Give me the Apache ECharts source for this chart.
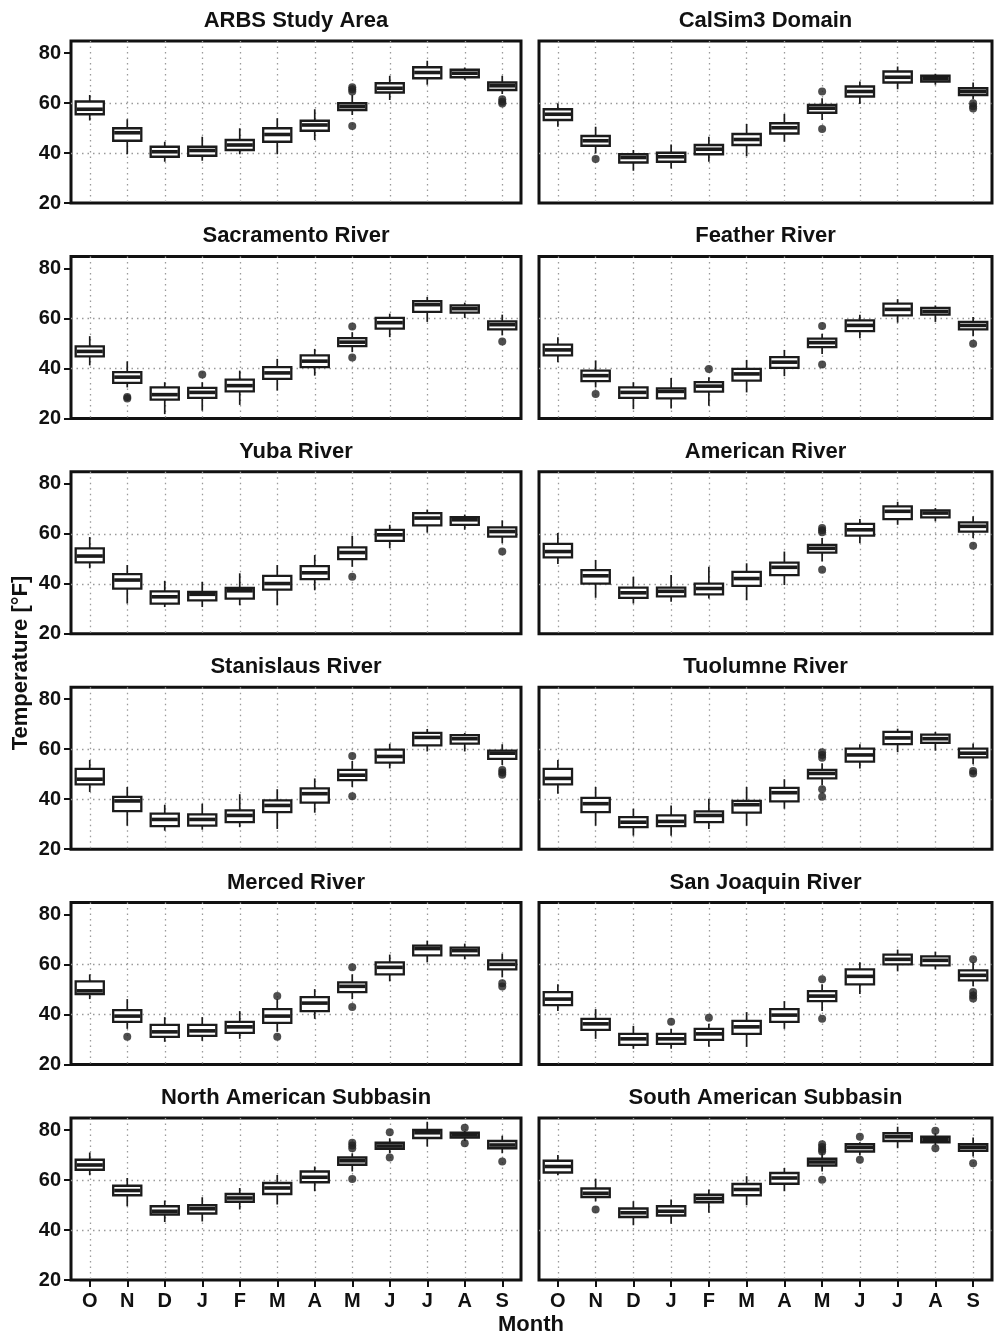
<!DOCTYPE html>
<html>
<head>
<meta charset="utf-8">
<title>Monthly Temperature</title>
<script src="https://cdn.jsdelivr.net/npm/echarts@6/dist/echarts.min.js"></script>
<style>
  html, body { margin: 0; padding: 0; background: #fff; }
  #chart { width: 994px; height: 1338px; }
</style>
</head>
<body>
<div id="chart"></div>
<script>
// Month letters, water year order (Oct .. Sep)
const months = ['O', 'N', 'D', 'J', 'F', 'M', 'A', 'M', 'J', 'J', 'A', 'S'];
const yTicks = [20, 40, 60, 80];

const panelTitles = [
  'ARBS Study Area', 'CalSim3 Domain',
  'Sacramento River', 'Feather River',
  'Yuba River', 'American River',
  'Stanislaus River', 'Tuolumne River',
  'Merced River', 'San Joaquin River',
  'North American Subbasin', 'South American Subbasin'
];

// Box statistics per month: [lower whisker, Q1, median, Q3, upper whisker] in °F
const arbsStats = [
  [53, 55.5, 57.5, 60.6, 63.2], [39.5, 44.9, 48.1, 49.9, 53.5], [36.5, 38.5, 40.5, 42.5, 44.5],
  [36.9, 38.9, 41, 42.5, 46.5], [39.5, 41.2, 43.2, 45.2, 49.9], [39.5, 44.5, 47.4, 49.9, 53.9],
  [45.2, 48.9, 51.2, 52.9, 57.5], [55.2, 57.2, 58.6, 59.9, 63.2], [61.2, 64.2, 65.9, 67.9, 70.9],
  [67.3, 69.9, 72.2, 74.3, 76.9], [69.3, 70.3, 71.9, 73.3, 74.2], [63.6, 65.2, 66.9, 68.2, 70.9]
];
const calsimStats = [
  [50.5, 53.2, 55.5, 57.5, 59.9], [39.8, 42.9, 44.9, 46.8, 50.5], [32.9, 36.2, 38.2, 39.5, 41.2],
  [33.8, 36.5, 38.5, 40.1, 43.4], [36.5, 39.5, 41.5, 43.2, 46.5], [38.7, 43.2, 45.4, 47.6, 51.6],
  [44.5, 47.8, 50.1, 51.9, 55.6], [53.2, 56.1, 57.9, 59.2, 61.9], [59.6, 62.6, 64.6, 66.6, 68.6],
  [65.5, 68.2, 70.3, 72.6, 74.6], [67.3, 68.6, 69.7, 70.9, 71.7], [61.5, 63.2, 64.6, 65.9, 68.2]
];
const sacramentoStats = [
  [41.2, 44.8, 46.8, 48.8, 52.9], [32.4, 34.2, 36.5, 38.5, 42.8], [21.7, 27.5, 29.5, 32.4, 34.5],
  [23.1, 28.2, 30.4, 32.2, 34.5], [25.4, 30.8, 33.1, 35.5, 39.1], [31.1, 35.8, 38.2, 40.5, 43.8],
  [37.1, 40.5, 42.9, 45.2, 47.8], [46.5, 48.9, 50.5, 52.1, 54.5], [52.5, 55.9, 58.3, 60.2, 61.9],
  [58.6, 62.6, 65.5, 66.9, 68.6], [60.2, 62.3, 63.9, 65.2, 66.3], [53.2, 55.6, 57.5, 58.8, 61.5]
];
const featherStats = [
  [42.5, 45.2, 47.4, 49.5, 52.5], [32.4, 34.9, 37.1, 39.1, 43.2], [23.7, 28.2, 30.4, 32.4, 34.5],
  [24, 28, 30.8, 32, 36.2], [25.1, 30.7, 32.9, 34.5, 36.5], [30.4, 35.1, 37.8, 39.8, 43.4],
  [36.9, 40.2, 42.5, 44.5, 47.4], [45.8, 48.5, 50.3, 51.9, 53.9], [52.1, 54.9, 57.2, 59.2, 61.5],
  [58.3, 61.2, 63.6, 65.9, 67.7], [58.6, 61.5, 62.8, 64.2, 65.2], [52.9, 55.6, 57.2, 58.6, 60.6]
];
const yubaStats = [
  [46.2, 48.6, 51.1, 54.2, 58.7], [32.1, 38.1, 41.5, 43.9, 47.5], [30.7, 32.1, 34.8, 37, 41.2],
  [30.7, 33.4, 35.8, 36.8, 40.8], [31.4, 34.1, 37.2, 38.4, 44.2], [31.4, 37.7, 40.1, 43.2, 47.5],
  [37.4, 41.9, 44.4, 47.1, 51.5], [46.8, 49.9, 52.5, 54.6, 59.2], [54.2, 57.2, 59.6, 61.6, 63.6],
  [60.5, 63.4, 66.3, 68.3, 69.7], [61.6, 63.6, 65.6, 66.7, 67.7], [56.2, 58.9, 60.9, 62.6, 65.4]
];
const americanStats = [
  [47.9, 50.6, 52.9, 56, 60.3], [34.4, 40.1, 43.2, 45.5, 49.5], [32.1, 34.4, 36.4, 38.5, 42.8],
  [32.8, 35, 37, 38.5, 43.5], [34.1, 35.8, 38.1, 40.1, 46.8], [33.4, 39.2, 42.1, 44.8, 48.2],
  [39.5, 43.5, 46.6, 48.5, 52.9], [48.9, 52.5, 54.2, 55.6, 58.3], [56.2, 59.3, 61.6, 64, 65.9],
  [63.6, 65.9, 69, 71, 72.8], [65, 66.6, 68.3, 69.4, 70.3], [58.3, 60.9, 63, 64.6, 67]
];
const stanislausStats = [
  [42.9, 45.9, 48, 52.1, 55.7], [29.4, 35.2, 39.3, 40.9, 44.9], [27.4, 29.2, 31.9, 34.2, 37.8],
  [27.8, 29.4, 31.9, 33.9, 38.2], [28.8, 30.8, 33.5, 35.5, 42], [28.1, 34.8, 37.5, 39.5, 44],
  [34.6, 38.6, 42.2, 44.3, 48.3], [44.9, 47.6, 49.6, 51.7, 55.3], [52.3, 54.6, 57.1, 59.8, 62.2],
  [59.1, 61.5, 64.7, 66.5, 68.1], [59.1, 62.2, 64.2, 65.6, 66.5], [53.7, 56.1, 58.4, 59.4, 62]
];
const tuolumneStats = [
  [42.2, 45.9, 48.3, 52.1, 55.7], [29.4, 34.8, 38.2, 40.5, 44.9], [25.4, 28.8, 30.8, 32.8, 36.2],
  [25.4, 29.2, 31.1, 33.5, 37.5], [28.1, 30.8, 33.5, 35.1, 40.2], [29.4, 34.6, 37.8, 39.3, 44.9],
  [36.2, 39.1, 42.6, 44.5, 48], [45.6, 48.3, 50.3, 51.7, 54.4], [52.3, 55, 57.7, 60.2, 62],
  [58.8, 62, 64.5, 66.9, 68.2], [59.4, 62.5, 64.2, 65.8, 66.9], [54, 56.7, 58.4, 60.2, 62.3]
];
const mercedStats = [
  [46.2, 48.2, 49.5, 53.3, 56.1], [34.3, 37.1, 39.4, 41.8, 46.2], [29.1, 31.1, 33.1, 35.9, 39],
  [29.5, 31.5, 33.5, 35.9, 39], [30.3, 32.7, 35.1, 37.1, 41.4], [33.1, 36.7, 39.4, 42.2, 46.2],
  [38.3, 41.4, 44.6, 47, 50.2], [46.2, 49, 51.3, 52.9, 56.1], [53.3, 56.1, 58.9, 60.9, 64],
  [60.9, 63.7, 66.4, 67.6, 69.6], [62.1, 63.7, 65.6, 66.8, 68.4], [54.9, 58.1, 60.1, 61.7, 64.4]
];
const sanJoaquinStats = [
  [41.4, 43.8, 46.2, 49, 52.1], [30.3, 33.9, 36.3, 38.3, 42.2], [26.3, 27.9, 30.3, 32.3, 35.5],
  [26.3, 28.3, 30.3, 32.3, 34.3], [27.1, 29.9, 32.3, 34.3, 36.3], [27.1, 32.3, 35.1, 37.5, 41],
  [34.3, 37.1, 39.8, 42.2, 45.4], [41.4, 45.4, 47.4, 49.4, 52.1], [48.2, 52.1, 55.3, 58.1, 60.9],
  [57.3, 60.1, 62.1, 64, 66], [58.1, 59.7, 61.7, 63.3, 65.2], [51.3, 53.7, 55.7, 57.7, 60.9]
];
const northSubbasinStats = [
  [61.9, 64.1, 66, 68.1, 71], [49.5, 53.9, 55.8, 57.7, 60.8], [43.2, 46.2, 47.5, 49.5, 51.8],
  [43.4, 46.6, 48.5, 49.9, 53.1], [48.2, 51.3, 52.8, 54.4, 56.8], [50.2, 54.4, 56.8, 58.8, 62],
  [55.5, 59.1, 61.1, 63.4, 65.4], [63.4, 66.1, 67.7, 69, 70.7], [70.7, 72.5, 73.6, 74.9, 76.7],
  [73.4, 76.8, 78.9, 80, 83.3], [75.6, 77, 78, 78.9, 79.6], [70.7, 72.7, 74, 75.6, 77.7]
];
const southSubbasinStats = [
  [61.9, 63, 65.4, 67.7, 70], [51.5, 53.2, 54.7, 56.6, 60.5], [41.9, 45.2, 46.9, 48.6, 51.5],
  [42.5, 45.8, 47.5, 49.5, 52.2], [46.9, 51.1, 52.6, 54.1, 56.2], [49.9, 53.9, 56.2, 58.4, 61.5],
  [55.5, 58.5, 60.8, 62.8, 64.8], [63.4, 65.8, 67.2, 68.5, 70.7], [69.8, 71.4, 73, 74.3, 75.1],
  [72.7, 75.6, 77.3, 78.7, 81.3], [74, 75.1, 76.3, 77.3, 78.7], [69.4, 71.7, 73.1, 74.3, 77]
];

// Outliers: [month index, °F]
const arbsOutliers = [[7, 64.6], [7, 65.5], [7, 66.3], [7, 50.8], [11, 61.5], [11, 60.5], [11, 59.8]];
const calsimOutliers = [[1, 37.6], [7, 64.6], [7, 49.6], [11, 59.9], [11, 58.7], [11, 57.8]];
const sacramentoOutliers = [[1, 28.6], [1, 28], [3, 37.6], [7, 56.8], [7, 44.4], [11, 50.8]];
const featherOutliers = [[1, 29.8], [4, 39.8], [7, 57], [7, 41.6], [11, 49.9]];
const yubaOutliers = [[7, 42.8], [11, 52.9]];
const americanOutliers = [[7, 62.3], [7, 61.4], [7, 60.6], [7, 45.6], [11, 55.2]];
const stanislausOutliers = [[7, 57.3], [7, 41.2], [11, 51.7], [11, 50.7], [11, 49.8]];
const tuolumneOutliers = [[7, 58.8], [7, 57.7], [7, 56.6], [7, 44], [7, 41], [11, 51.3], [11, 50.3]];
const mercedOutliers = [[1, 31.1], [5, 47.4], [5, 31.1], [7, 58.9], [7, 43], [11, 52.5], [11, 51.2]];
const sanJoaquinOutliers = [[3, 37.1], [4, 38.7], [7, 54.1], [7, 38.3], [11, 62.1], [11, 49], [11, 47.6], [11, 46.4]];
const northSubbasinOutliers = [[7, 74.9], [7, 73.8], [7, 72.7], [7, 60.4], [8, 79.1], [8, 69], [10, 80.9], [10, 74.7], [11, 67.4]];
const southSubbasinOutliers = [[1, 48.2], [7, 74.3], [7, 73.2], [7, 72.2], [7, 71.4], [7, 60.1], [8, 77.3], [8, 68.1], [10, 79.7], [10, 72.7], [11, 66.7]];

const panelStats = [
  arbsStats, calsimStats, sacramentoStats, featherStats, yubaStats, americanStats,
  stanislausStats, tuolumneStats, mercedStats, sanJoaquinStats, northSubbasinStats, southSubbasinStats
];
const panelOutliers = [
  arbsOutliers, calsimOutliers, sacramentoOutliers, featherOutliers, yubaOutliers, americanOutliers,
  stanislausOutliers, tuolumneOutliers, mercedOutliers, sanJoaquinOutliers, northSubbasinOutliers, southSubbasinOutliers
];

// ---- layout ----
const FONT = "'Liberation Sans', Arial, Helvetica, sans-serif";
const INK = '#111';
const colLeft = [71, 539];
const colWidth = [450, 453];
const rowTop0 = 41, rowStep = 215.4, panelH = 162;
const yMin = 20, yMax = 84.8;

function renderBox(params, api) {
  const i = api.value(0);
  const lo = api.coord([i, api.value(1)]);
  const q1 = api.coord([i, api.value(2)]);
  const md = api.coord([i, api.value(3)]);
  const q3 = api.coord([i, api.value(4)]);
  const hi = api.coord([i, api.value(5)]);
  const half = api.size([1, 0])[0] * 0.375;
  const x = lo[0];
  const stroke = '#1b1b1b';
  return {
    type: 'group',
    children: [
      { type: 'line', shape: { x1: x, y1: q3[1], x2: x, y2: hi[1] }, style: { stroke, lineWidth: 1.7 } },
      { type: 'line', shape: { x1: x, y1: q1[1], x2: x, y2: lo[1] }, style: { stroke, lineWidth: 1.7 } },
      { type: 'rect', shape: { x: x - half, y: q3[1], width: half * 2, height: q1[1] - q3[1] },
        style: { fill: '#fff', stroke, lineWidth: 2.3 } },
      { type: 'line', shape: { x1: x - half + 1, y1: md[1], x2: x + half - 1, y2: md[1] },
        style: { stroke, lineWidth: 3.6 } }
    ]
  };
}

const grids = [], xAxes = [], yAxes = [], series = [], graphics = [];

panelTitles.forEach((title, p) => {
  const col = p % 2;
  const row = Math.floor(p / 2);
  const top = rowTop0 + rowStep * row;
  const left = colLeft[col];
  const width = colWidth[col];
  const isBottom = row === 5;
  const isLeft = col === 0;

  grids.push({
    left, top, width, height: panelH,
    show: true, backgroundColor: '#fff',
    borderColor: INK, borderWidth: 3,
    containLabel: false
  });

  xAxes.push({
    type: 'category', gridIndex: p, data: months, boundaryGap: true,
    axisLine: { show: false },
    axisTick: { show: isBottom, alignWithLabel: true, length: 7, lineStyle: { color: INK, width: 2 } },
    axisLabel: { show: isBottom, interval: 0, margin: 11, color: INK, fontFamily: FONT, fontWeight: 'bold', fontSize: 20 },
    splitLine: { show: true, alignWithLabel: true, lineStyle: { color: '#9a9a9a', type: [1.5, 4], width: 1.3 } }
  });

  yAxes.push({
    type: 'value', gridIndex: p, min: yMin, max: yMax, interval: 20,
    axisLine: { show: false },
    axisTick: { show: isLeft, customValues: yTicks, length: 7, lineStyle: { color: INK, width: 2 } },
    axisLabel: { show: isLeft, customValues: yTicks, margin: 10, color: INK, fontFamily: FONT, fontWeight: 'bold', fontSize: 20 },
    splitLine: { show: true, showMinLine: false, showMaxLine: false,
      lineStyle: { color: '#9a9a9a', type: [1.5, 4], width: 1.3 } }
  });

  series.push({
    type: 'custom', xAxisIndex: p, yAxisIndex: p,
    renderItem: renderBox,
    encode: { x: 0, y: [1, 2, 3, 4, 5] },
    data: panelStats[p].map((s, i) => [i].concat(s)),
    z: 3, silent: true
  });

  series.push({
    type: 'scatter', xAxisIndex: p, yAxisIndex: p,
    data: panelOutliers[p],
    symbol: 'circle', symbolSize: 8,
    itemStyle: { color: '#222' },
    z: 4, silent: true
  });

  graphics.push({
    type: 'text', x: left + width / 2, y: top - 20,
    style: { text: title, fill: INK, font: `bold 22px ${FONT}`, textAlign: 'center', textVerticalAlign: 'middle' }
  });
});

graphics.push({
  type: 'text', x: 21, y: 663, rotation: Math.PI / 2,
  style: { text: 'Temperature [°F]', fill: INK, font: `bold 22px ${FONT}`, textAlign: 'center', textVerticalAlign: 'middle' }
});
graphics.push({
  type: 'text', x: 531, y: 1325,
  style: { text: 'Month', fill: INK, font: `bold 22px ${FONT}`, textAlign: 'center', textVerticalAlign: 'middle' }
});

const chart = echarts.init(document.getElementById('chart'), null, { renderer: 'canvas' });
chart.setOption({
  backgroundColor: '#fff',
  animation: false,
  grid: grids,
  xAxis: xAxes,
  yAxis: yAxes,
  series,
  graphic: graphics
});
</script>
</body>
</html>
